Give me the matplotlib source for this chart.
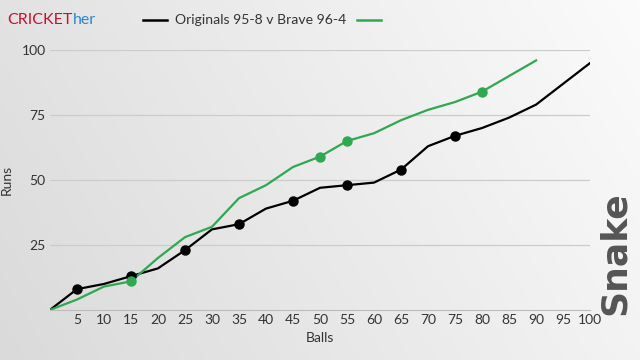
import numpy as np
import matplotlib
matplotlib.use("Agg")
import matplotlib.pyplot as plt
from matplotlib.lines import Line2D

plt.rcParams['font.family'] = ['Lato', 'DejaVu Sans']

balls = [0, 5, 10, 15, 20, 25, 30, 35, 40, 45, 50, 55, 60, 65, 70, 75, 80, 85, 90, 95, 100]
originals = [0, 8, 10, 13, 16, 23, 31, 33, 39, 42, 47, 48, 49, 54, 63, 67, 70, 74, 79, 87, 95]
originals_wkts = [5, 15, 25, 35, 45, 55, 65, 75]
brave_balls = [0, 5, 10, 15, 20, 25, 30, 35, 40, 45, 50, 55, 60, 65, 70, 75, 80, 85, 90]
brave = [0, 4, 9, 11, 20, 28, 32, 43, 48, 55, 59, 65, 68, 73, 77, 80, 84, 90, 96]
brave_wkts = [15, 50, 55, 80]
xticks = list(range(5, 101, 5))
yticks = [25, 50, 75, 100]
legend_label = "Originals 95-8 v Brave 96-4"

BLACK = "#000000"
GREEN = "#2fa84f"

fig = plt.figure(figsize=(6.4, 3.6), dpi=100)
W, H = 640.0, 360.0

# gradient background
bg = fig.add_axes([0, 0, 1, 1], zorder=-10)
xx = np.linspace(0, 1, 256)
yy = np.linspace(0, 1, 144)
X, Y = np.meshgrid(xx, yy)
g = 0.855 + 0.13 * np.clip(0.75 * X + 0.25 * (1 - Y), 0, 1)
bg.imshow(np.dstack([g, g, g]), extent=[0, 1, 0, 1], aspect='auto', origin='upper')
bg.axis('off')

ax = fig.add_axes([0.078, 0.139, 0.844, 0.722])
ax.set_facecolor('none')

ax.plot(balls, originals, color=BLACK, lw=1.6, zorder=3)
ax.plot(originals_wkts, [originals[balls.index(b)] for b in originals_wkts], 'o',
        color=BLACK, ms=6.5, zorder=4)
ax.plot(brave_balls, brave, color=GREEN, lw=1.6, zorder=3)
ax.plot(brave_wkts, [brave[brave_balls.index(b)] for b in brave_wkts], 'o',
        color=GREEN, ms=6.5, zorder=4)

ax.set_xlim(0, 100)
ax.set_ylim(0, 100)
ax.set_xticks(xticks)
ax.set_yticks(yticks)
ax.tick_params(length=0, labelsize=10, colors='#333333', pad=3)
ax.grid(axis='y', color='#cccccc', lw=0.9)
ax.set_axisbelow(True)
for s in ['top', 'right', 'left']:
    ax.spines[s].set_visible(False)
ax.spines['bottom'].set_color('#bbbbbb')
ax.set_xlabel('Balls', fontsize=10, color='#333333', labelpad=4)
ax.set_ylabel('Runs', fontsize=10, color='#333333')
ax.yaxis.set_label_coords(-0.068, 0.5)

# legend (drawn manually to match the reference placement)
ly = 1 - 20 / H
fig.add_artist(Line2D([143 / W, 167 / W], [ly, ly], color=BLACK, lw=1.8,
                      transform=fig.transFigure))
fig.add_artist(Line2D([357 / W, 381 / W], [ly, ly], color=GREEN, lw=1.8,
                      transform=fig.transFigure))
fig.text(261 / W, ly, legend_label, fontsize=10.1, color='#333333',
         ha='center', va='center')

t1 = fig.text(0.011, 0.945, 'CRICKET', color='#c8102e', fontsize=11.5, va='center', ha='left')
fig.canvas.draw()
bb = t1.get_window_extent()
x_her = bb.x1 / fig.bbox.width
fig.text(x_her, 0.945, 'her', color='#2b88c8', fontsize=11.5, va='center', ha='left')

fig.text(0.96, 0.298, 'Snake', rotation=90, fontsize=26, fontweight='bold',
         color='#555555', va='center', ha='center', family=['DejaVu Sans'])

fig.savefig('out.png', dpi=100)
